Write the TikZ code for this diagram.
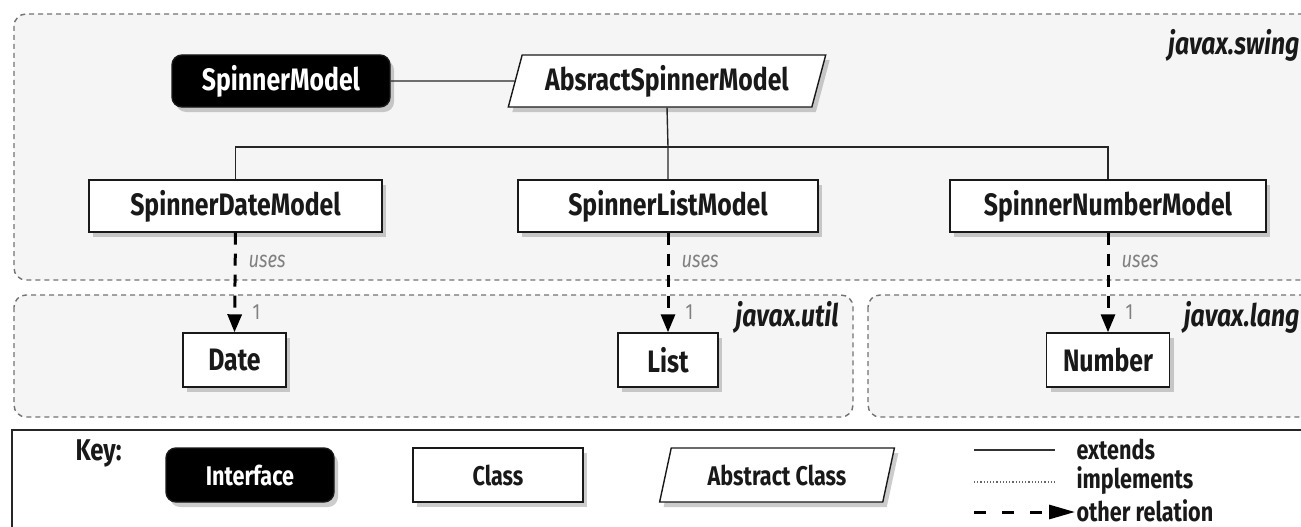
\documentclass[tikz,border=0pt]{standalone}
\usepackage{fontspec}
\setmainfont{Fira Sans}[FakeStretch=0.8]
\usetikzlibrary{shapes.geometric,shadows,arrows.meta}
\tikzset{
  pkg/.style={draw=black!55, dash pattern=on 5pt off 4pt, line width=1.4pt, rounded corners=12pt, fill=black!4},
  shd/.style={drop shadow={opacity=0.4, shadow xshift=4pt, shadow yshift=-5pt}},
  cls/.style={draw=black!90, line width=1.4pt, fill=white, minimum height=52pt, inner sep=0pt, shd,
     font=\fontsize{31}{33}\selectfont\bfseries, text=black!90},
  keycls/.style={cls, minimum height=54pt, font=\fontsize{27}{29}\selectfont\bfseries},
  iface/.style={fill=black, text=white, rounded corners=10pt},
  abscls/.style={trapezium, trapezium left angle=70, trapezium right angle=110, trapezium stretches=true},
  uses/.style={line width=3pt, dash pattern=on 12pt off 9pt, -{Triangle[length=18pt,width=14pt]}},
  conn/.style={line width=1.4pt, draw=black!85},
  lbl/.style={text=black!50, font=\fontsize{23}{25}\selectfont\itshape},
  pkglbl/.style={font=\fontsize{31}{33}\selectfont\bfseries\itshape, text=black!90},
  legtxt/.style={anchor=west, font=\fontsize{27}{29}\selectfont\bfseries, text=black!90}
}
\begin{document}
\begin{tikzpicture}[x=1pt,y=-1pt]
\clip (0,0) rectangle (1301,527);
\fill[white] (0,0) rectangle (1301,527);
% packages
\draw[pkg] (14,14) rectangle (1320,280);
\draw[pkg] (14,295) rectangle (853,417);
\draw[pkg] (868,295) rectangle (1320,417);
\node[pkglbl, anchor=east] (swing) at (1303,45) {javax.swing};
\node[pkglbl, anchor=east] (util) at (842,317) {javax.util};
\node[pkglbl, anchor=east] (lang) at (1303,317) {javax.lang};
% nodes
\node[cls, iface, minimum width=218pt] (sm) at (281,81) {SpinnerModel};
\node[cls, abscls, minimum width=318pt] (asm) at (667,81) {AbsractSpinnerModel};
\node[cls, minimum width=293pt] (sdm) at (235.5,206) {SpinnerDateModel};
\node[cls, minimum width=300pt] (slm) at (668,206) {SpinnerListModel};
\node[cls, minimum width=316pt] (snm) at (1108,206) {SpinnerNumberModel};
\node[cls, minimum width=103pt, minimum height=54pt] (date) at (234.5,360) {Date};
\node[cls, minimum width=100pt, minimum height=54pt] (list) at (668,360) {List};
\node[cls, minimum width=123pt, minimum height=54pt] (number) at (1108,360) {Number};
% connectors
\coordinate (bus) at (668,147);
\draw[conn] (sm) -- (asm);
\draw[conn] (asm.south) -- (bus) -- (slm.north);
\draw[conn] (sdm.north) -- (sdm.north |- bus) -- (snm.north |- bus) -- (snm.north);
\draw[uses] (sdm.south) -- (date.north);
\draw[uses] (slm.south) -- (list.north);
\draw[uses] (snm.south) -- (number.north);
\node[lbl, anchor=west] (u1) at (245,261) {uses};
\node[lbl, anchor=west] (u2) at (678,261) {uses};
\node[lbl, anchor=west] (u3) at (1118,261) {uses};
\node[lbl, anchor=west, font=\fontsize{22}{24}\selectfont] (m1) at (249,312) {1};
\node[lbl, anchor=west, font=\fontsize{22}{24}\selectfont] (m2) at (682,312) {1};
\node[lbl, anchor=west, font=\fontsize{22}{24}\selectfont] (m3) at (1122,312) {1};
% key
\draw[line width=2pt, draw=black!85] (12,430) rectangle (1320,540);
\node[anchor=west, font=\fontsize{30}{32}\selectfont\bfseries, text=black!90] (key) at (72,453) {Key:};
\node[keycls, iface, minimum width=168pt] (kif) at (250,475) {Interface};
\node[keycls, minimum width=170pt] (kcl) at (498,475) {Class};
\node[keycls, abscls, minimum width=235pt] (kab) at (777,475) {Abstract Class};
\coordinate (e1) at (974,450); \coordinate (e2) at (1055,450);
\coordinate (i1) at (974,482); \coordinate (i2) at (1055,482);
\coordinate (o1) at (974,512); \coordinate (o2) at (1075,512);
\draw[line width=1.4pt, draw=black!80] (e1) -- (e2);
\draw[line width=1.2pt, draw=black!60, dotted] (i1) -- (i2);
\draw[line width=3pt, dash pattern=on 12pt off 16pt, -{Triangle[length=26pt,width=14pt]}] (o1) -- (o2);
\node[legtxt] (lext) at (1073,449) {extends};
\node[legtxt] (limp) at (1073,481) {implements};
\node[legtxt] (loth) at (1073,511) {other relation};
\end{tikzpicture}
\end{document}
